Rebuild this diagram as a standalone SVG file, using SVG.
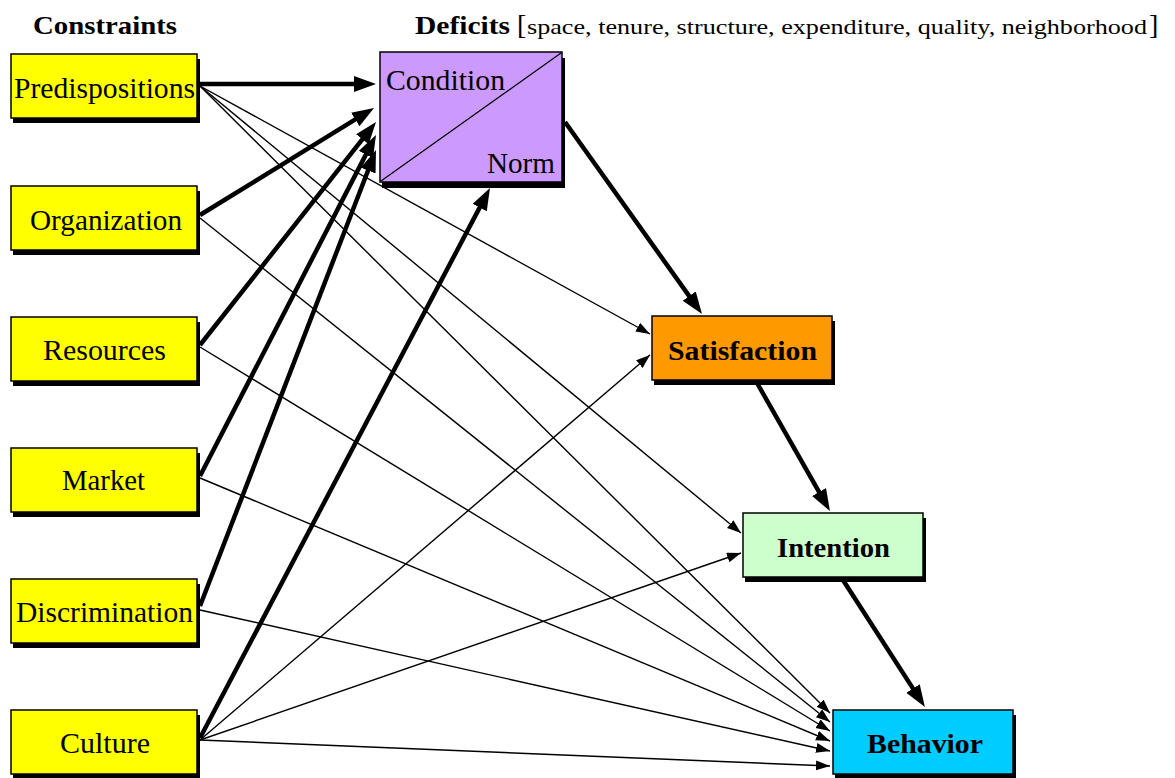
<svg xmlns="http://www.w3.org/2000/svg" width="1175" height="778" viewBox="0 0 1175 778">
<style>
.t{font-family:"Liberation Serif","DejaVu Serif",serif;fill:#000}
.b{font-weight:bold}
.sh{fill:#000}
.bx{stroke:#000;stroke-width:1.5}
.thick{stroke:#000;stroke-width:4.5;fill:none;marker-end:url(#ah)}
.thin{stroke:#000;stroke-width:1.4;fill:none;marker-end:url(#as)}
</style>
<defs>
<marker id="ah" markerUnits="userSpaceOnUse" markerWidth="24" markerHeight="18" refX="12" refY="8" orient="auto"><path d="M0,0 L22,8 L0,16 z" fill="#000"/></marker>
<marker id="as" markerUnits="userSpaceOnUse" markerWidth="16" markerHeight="12" refX="14" refY="5" orient="auto"><path d="M0,0 L14,5 L0,10 z" fill="#000"/></marker>
</defs>
<rect width="1175" height="778" fill="#fff"/>
<text class="t b" x="33" y="34" font-size="26" textLength="144" lengthAdjust="spacingAndGlyphs">Constraints</text>
<text class="t" x="415" y="34" font-size="22"><tspan class="b" font-size="26" textLength="95" lengthAdjust="spacingAndGlyphs">Deficits</tspan><tspan x="517" font-size="28">[</tspan><tspan x="527" textLength="620" lengthAdjust="spacingAndGlyphs">space, tenure, structure, expenditure, quality, neighborhood</tspan><tspan x="1149" font-size="28">]</tspan></text>

<g id="connectors">
<line class="thin" x1="200" y1="86" x2="650" y2="334"/>
<line class="thin" x1="200" y1="86" x2="741" y2="533"/>
<line class="thin" x1="200" y1="86" x2="830" y2="713"/>
<line class="thin" x1="200" y1="218" x2="830" y2="722"/>
<line class="thin" x1="200" y1="347" x2="830" y2="731"/>
<line class="thin" x1="200" y1="478" x2="830" y2="741"/>
<line class="thin" x1="200" y1="610" x2="830" y2="751"/>
<line class="thin" x1="200" y1="740" x2="650" y2="355"/>
<line class="thin" x1="200" y1="740" x2="741" y2="553"/>
<line class="thin" x1="200" y1="740" x2="830" y2="766"/>
<line class="thick" x1="200" y1="84" x2="366" y2="84"/>
<line class="thick" x1="200" y1="215" x2="365.5" y2="113.2"/>
<line class="thick" x1="200" y1="345" x2="369.8" y2="129.9"/>
<line class="thick" x1="200" y1="476" x2="371.4" y2="143.9"/>
<line class="thick" x1="200" y1="606" x2="372.4" y2="159.3"/>
<line class="thick" x1="200" y1="738" x2="485.3" y2="196.9"/>
<line class="thick" x1="565" y1="122" x2="696.2" y2="305.9"/>
<line class="thick" x1="757" y1="383" x2="825" y2="502.4"/>
<line class="thick" x1="843" y1="580" x2="919.5" y2="698.6"/>
</g>

<g id="predispositions">
<rect class="sh" x="13" y="59" width="187" height="64"/>
<rect class="bx" x="11" y="54" width="186" height="64" fill="#ffff00"/>
<text class="t" x="14" y="98" font-size="29" textLength="181" lengthAdjust="spacingAndGlyphs">Predispositions</text>
</g>
<g id="organization">
<rect class="sh" x="13" y="191" width="187" height="64"/>
<rect class="bx" x="11" y="186" width="186" height="64" fill="#ffff00"/>
<text class="t" x="30" y="230" font-size="29" textLength="152" lengthAdjust="spacingAndGlyphs">Organization</text>
</g>
<g id="resources">
<rect class="sh" x="13" y="322" width="187" height="64"/>
<rect class="bx" x="11" y="317" width="186" height="64" fill="#ffff00"/>
<text class="t" x="43" y="360" font-size="29" textLength="123" lengthAdjust="spacingAndGlyphs">Resources</text>
</g>
<g id="market">
<rect class="sh" x="13" y="453" width="187" height="64"/>
<rect class="bx" x="11" y="448" width="186" height="64" fill="#ffff00"/>
<text class="t" x="62" y="490" font-size="29" textLength="83" lengthAdjust="spacingAndGlyphs">Market</text>
</g>
<g id="discrimination">
<rect class="sh" x="13" y="584" width="187" height="64"/>
<rect class="bx" x="11" y="579" width="186" height="64" fill="#ffff00"/>
<text class="t" x="16" y="622" font-size="29" textLength="177" lengthAdjust="spacingAndGlyphs">Discrimination</text>
</g>
<g id="culture">
<rect class="sh" x="13" y="715" width="187" height="64"/>
<rect class="bx" x="11" y="710" width="186" height="64" fill="#ffff00"/>
<text class="t" x="60" y="753" font-size="29" textLength="90" lengthAdjust="spacingAndGlyphs">Culture</text>
</g>

<g id="condition-norm">
<rect class="sh" x="382" y="58" width="183" height="130"/>
<rect class="bx" x="380" y="52" width="182" height="130" fill="#cc99ff"/>
<line x1="381" y1="181" x2="561" y2="53" stroke="#000" stroke-width="1.2"/>
<text class="t" x="386" y="90" font-size="29" textLength="119" lengthAdjust="spacingAndGlyphs">Condition</text>
<text class="t" x="487" y="173" font-size="29" textLength="68" lengthAdjust="spacingAndGlyphs">Norm</text>
</g>
<g id="satisfaction">
<rect class="sh" x="654" y="321" width="181" height="64"/>
<rect class="bx" x="652" y="316" width="180" height="64" fill="#ff9900"/>
<text class="t b" x="668" y="360" font-size="28" textLength="149" lengthAdjust="spacingAndGlyphs">Satisfaction</text>
</g>
<g id="intention">
<rect class="sh" x="745" y="518" width="181" height="64"/>
<rect class="bx" x="743" y="513" width="180" height="64" fill="#ccffcc"/>
<text class="t b" x="777" y="557" font-size="28" textLength="113" lengthAdjust="spacingAndGlyphs">Intention</text>
</g>
<g id="behavior">
<rect class="sh" x="835" y="715" width="181" height="64"/>
<rect class="bx" x="833" y="710" width="180" height="64" fill="#00ccff"/>
<text class="t b" x="867" y="753" font-size="28" textLength="116" lengthAdjust="spacingAndGlyphs">Behavior</text>
</g>
</svg>
